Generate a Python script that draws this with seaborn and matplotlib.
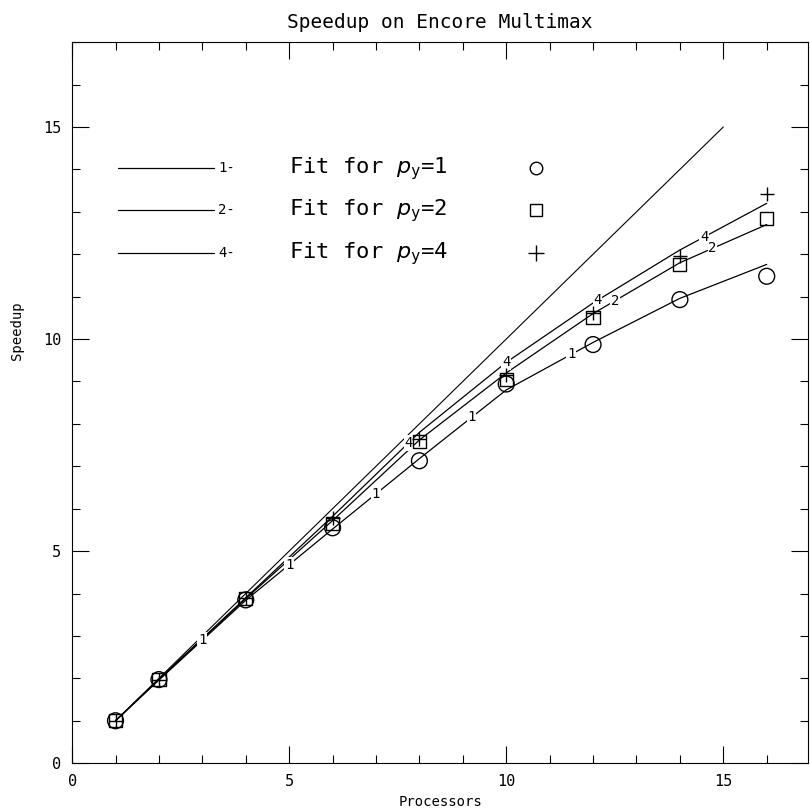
import numpy as np
import pandas as pd
import matplotlib
matplotlib.use("Agg")
import matplotlib.pyplot as plt
from matplotlib.ticker import MultipleLocator
import seaborn as sns

# ---- data ----
procs = [1, 2, 4, 6, 8, 10, 12, 14, 16]
speedup_py1 = [1.0, 1.97, 3.85, 5.55, 7.13, 8.94, 9.87, 10.93, 11.48]
speedup_py2 = [1.0, 1.97, 3.88, 5.65, 7.58, 9.05, 10.5, 11.76, 12.85]
speedup_py4 = [1.0, 1.97, 3.90, 5.78, 7.65, 9.15, 10.62, 11.95, 13.41]

fit_py1 = [1.0, 1.96, 3.84, 5.52, 7.18, 8.80, 9.92, 10.96, 11.76]
fit_py2 = [1.0, 1.97, 3.88, 5.72, 7.62, 9.20, 10.60, 11.80, 12.70]
fit_py4 = [1.0, 1.98, 3.90, 5.82, 7.80, 9.45, 10.85, 12.10, 13.20]

ideal_procs = [1, 15]
ideal_speedup = [1, 15]

fit_names = ["1", "2", "4"]
label_x = {"1": [3.0, 5.0, 7.0, 9.2, 11.5], "2": [12.5, 14.75], "4": [7.75, 10.0, 12.1, 14.56]}

title = "Speedup on Encore Multimax"
xlabel = "Processors"
ylabel = "Speedup"
ticks = [0, 5, 10, 15]

# ---- style ----
sns.set_theme(style="ticks")
plt.rcParams['font.family'] = ['DejaVu Sans Mono', 'DejaVu Sans']
plt.rcParams['axes.linewidth'] = 0.8
plt.rcParams['text.color'] = 'black'
plt.rcParams['axes.labelcolor'] = 'black'

fig = plt.figure(figsize=(8.1, 8.11), dpi=100)
ax = fig.add_axes([0.089, 0.059, 0.9085, 0.889])

# ideal line
sns.lineplot(x=ideal_procs, y=ideal_speedup, color="black", lw=0.8, ax=ax)

fits = {"1": fit_py1, "2": fit_py2, "4": fit_py4}
for name in fit_names:
    sns.lineplot(x=procs, y=fits[name], color="black", lw=0.9, ax=ax)
    for lx in label_x[name]:
        ly = np.interp(lx, procs, fits[name])
        ax.text(lx, ly, name, fontsize=10, ha="center", va="center", color="black",
                bbox=dict(fc="white", ec="none", pad=0.5), zorder=4)

sns.scatterplot(x=procs, y=speedup_py1, marker="o", s=130, fc="none", ec="black",
                linewidth=1.0, ax=ax, zorder=5)
sns.scatterplot(x=procs, y=speedup_py2, marker="s", s=90, fc="none", ec="black",
                linewidth=1.0, ax=ax, zorder=5)
sns.scatterplot(x=procs, y=speedup_py4, marker="+", s=110, color="black",
                linewidth=1.0, ax=ax, zorder=5)

ax.set_xlim(0, 16.95)
ax.set_ylim(0, 17)
ax.set_xticks(ticks)
ax.set_yticks(ticks)
ax.xaxis.set_minor_locator(MultipleLocator(1))
ax.yaxis.set_minor_locator(MultipleLocator(1))
ax.tick_params(which="both", direction="in", top=True, right=True, width=0.8,
               labelsize=11, colors="black")
ax.tick_params(which="major", length=12, pad=8)
ax.tick_params(which="minor", length=6)
for s in ax.spines.values():
    s.set_color("black")

ax.set_title(title, fontsize=14, pad=10, color="black")
ax.set_xlabel(xlabel, fontsize=10, labelpad=4)
ax.set_ylabel(ylabel, fontsize=10)
ax.yaxis.set_label_coords(-0.065, 0.6)

# ---- hand-drawn style key ----
rows = [0.825, 0.767, 0.707]
keytexts = ["Fit for $p_\\mathregular{y}$=1", "Fit for $p_\\mathregular{y}$=2", "Fit for $p_\\mathregular{y}$=4"]
keymarks = ["o", "s", "+"]
for r, name, txt, mk in zip(rows, fit_names, keytexts, keymarks):
    ax.plot([0.062, 0.193], [r, r], color="black", lw=0.9, transform=ax.transAxes)
    ax.text(0.21, r, name + "-", fontsize=10, ha="center", va="center", transform=ax.transAxes)
    ax.text(0.295, r, txt, fontsize=16, ha="left", va="center", transform=ax.transAxes)
    if mk == "+":
        ax.plot([0.63], [r], marker=mk, ms=11, mew=1.0, color="black", transform=ax.transAxes)
    else:
        ax.plot([0.63], [r], marker=mk, ms=9, mew=1.0, mfc="none", mec="black", transform=ax.transAxes)

fig.savefig("out.png", dpi=100)
